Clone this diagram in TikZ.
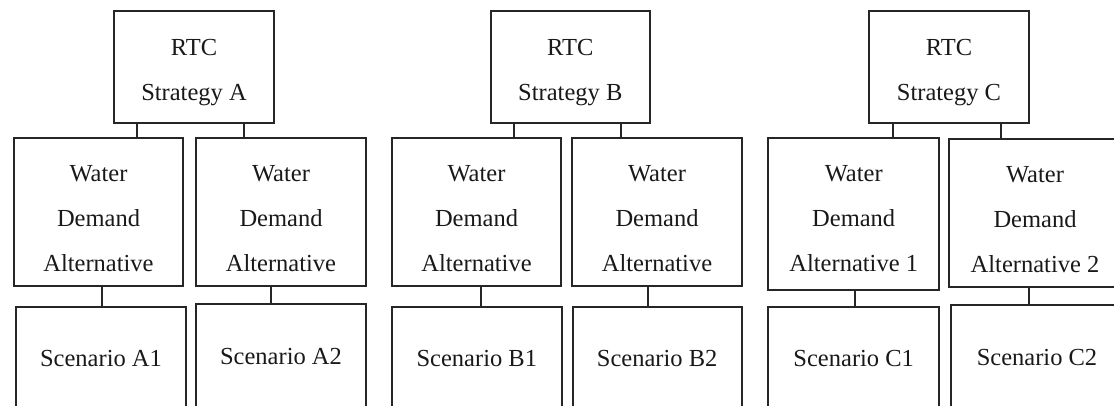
\documentclass[tikz,border=0pt]{standalone}
\usepackage{fontspec}
\setmainfont{Liberation Serif}
\begin{document}
\begin{tikzpicture}[x=1pt,y=-1pt,
  box/.style={draw=black!85,line width=2.2pt,rectangle,inner sep=0pt,align=center,
    font=\fontsize{24.5}{45}\selectfont,text=black!90},
  twoline/.style={text height=73pt},
  threeline/.style={text height=120pt},
  conn/.style={draw=black!85,line width=2.2pt}]
\useasboundingbox (0,0) rectangle (1114,405);
\clip (0,0) rectangle (1114,405);
% top level
\node[box,twoline,minimum width=160pt,minimum height=112pt] (rA) at (194,67) {RTC\\Strategy A};
\node[box,twoline,minimum width=159pt,minimum height=112pt] (rB) at (570.3,67) {RTC\\Strategy B};
\node[box,twoline,minimum width=160.6pt,minimum height=112pt] (rC) at (949,67) {RTC\\Strategy C};
% water demand
\node[box,threeline,minimum width=169pt,minimum height=148pt] (wA1) at (98.5,212) {Water\\Demand\\Alternative};
\node[box,threeline,minimum width=170pt,minimum height=148pt] (wA2) at (281,212) {Water\\Demand\\Alternative};
\node[box,threeline,minimum width=169pt,minimum height=148pt] (wB1) at (476.5,212) {Water\\Demand\\Alternative};
\node[box,threeline,minimum width=169.4pt,minimum height=148pt] (wB2) at (657,212) {Water\\Demand\\Alternative};
\node[box,threeline,text height=116pt,minimum width=171.3pt,minimum height=152pt] (wC1) at (853.7,214) {Water\\Demand\\Alternative 1};
\node[box,threeline,minimum width=172pt,minimum height=148pt] (wC2) at (1035,213) {Water\\Demand\\Alternative 2};
% scenarios
\node[box,minimum width=170pt,minimum height=104pt] (sA1) at (101,359) {Scenario A1};
\node[box,minimum width=170pt,minimum height=106pt] (sA2) at (281,357) {Scenario A2};
\node[box,minimum width=169.7pt,minimum height=104pt] (sB1) at (476.8,359) {Scenario B1};
\node[box,minimum width=169pt,minimum height=104pt] (sB2) at (657.2,359) {Scenario B2};
\node[box,minimum width=171.3pt,minimum height=104pt] (sC1) at (853.7,359) {Scenario C1};
\node[box,minimum width=172pt,minimum height=106pt] (sC2) at (1037,358) {Scenario C2};
% connectors
\draw[conn] ([xshift=-57pt]rA.south) -- ([xshift=-57pt]rA.south |- wA1.north);
\draw[conn] ([xshift=50pt]rA.south) -- ([xshift=50pt]rA.south |- wA2.north);
\draw[conn] ([xshift=-56pt]rB.south) -- ([xshift=-56pt]rB.south |- wB1.north);
\draw[conn] ([xshift=50.4pt]rB.south) -- ([xshift=50.4pt]rB.south |- wB2.north);
\draw[conn] ([xshift=-55.7pt]rC.south) -- ([xshift=-55.7pt]rC.south |- wC1.north);
\draw[conn] ([xshift=52.3pt]rC.south) -- ([xshift=52.3pt]rC.south |- wC2.north);
\draw[conn] ([xshift=3.5pt]wA1.south) -- ([xshift=3.5pt]wA1.south |- sA1.north);
\draw[conn] ([xshift=-10pt]wA2.south) -- ([xshift=-10pt]wA2.south |- sA2.north);
\draw[conn] ([xshift=4.2pt]wB1.south) -- ([xshift=4.2pt]wB1.south |- sB1.north);
\draw[conn] ([xshift=-9.3pt]wB2.south) -- ([xshift=-9.3pt]wB2.south |- sB2.north);
\draw[conn] ([xshift=1.6pt]wC1.south) -- ([xshift=1.6pt]wC1.south |- sC1.north);
\draw[conn] ([xshift=-6.3pt]wC2.south) -- ([xshift=-6.3pt]wC2.south |- sC2.north);
\end{tikzpicture}
\end{document}
